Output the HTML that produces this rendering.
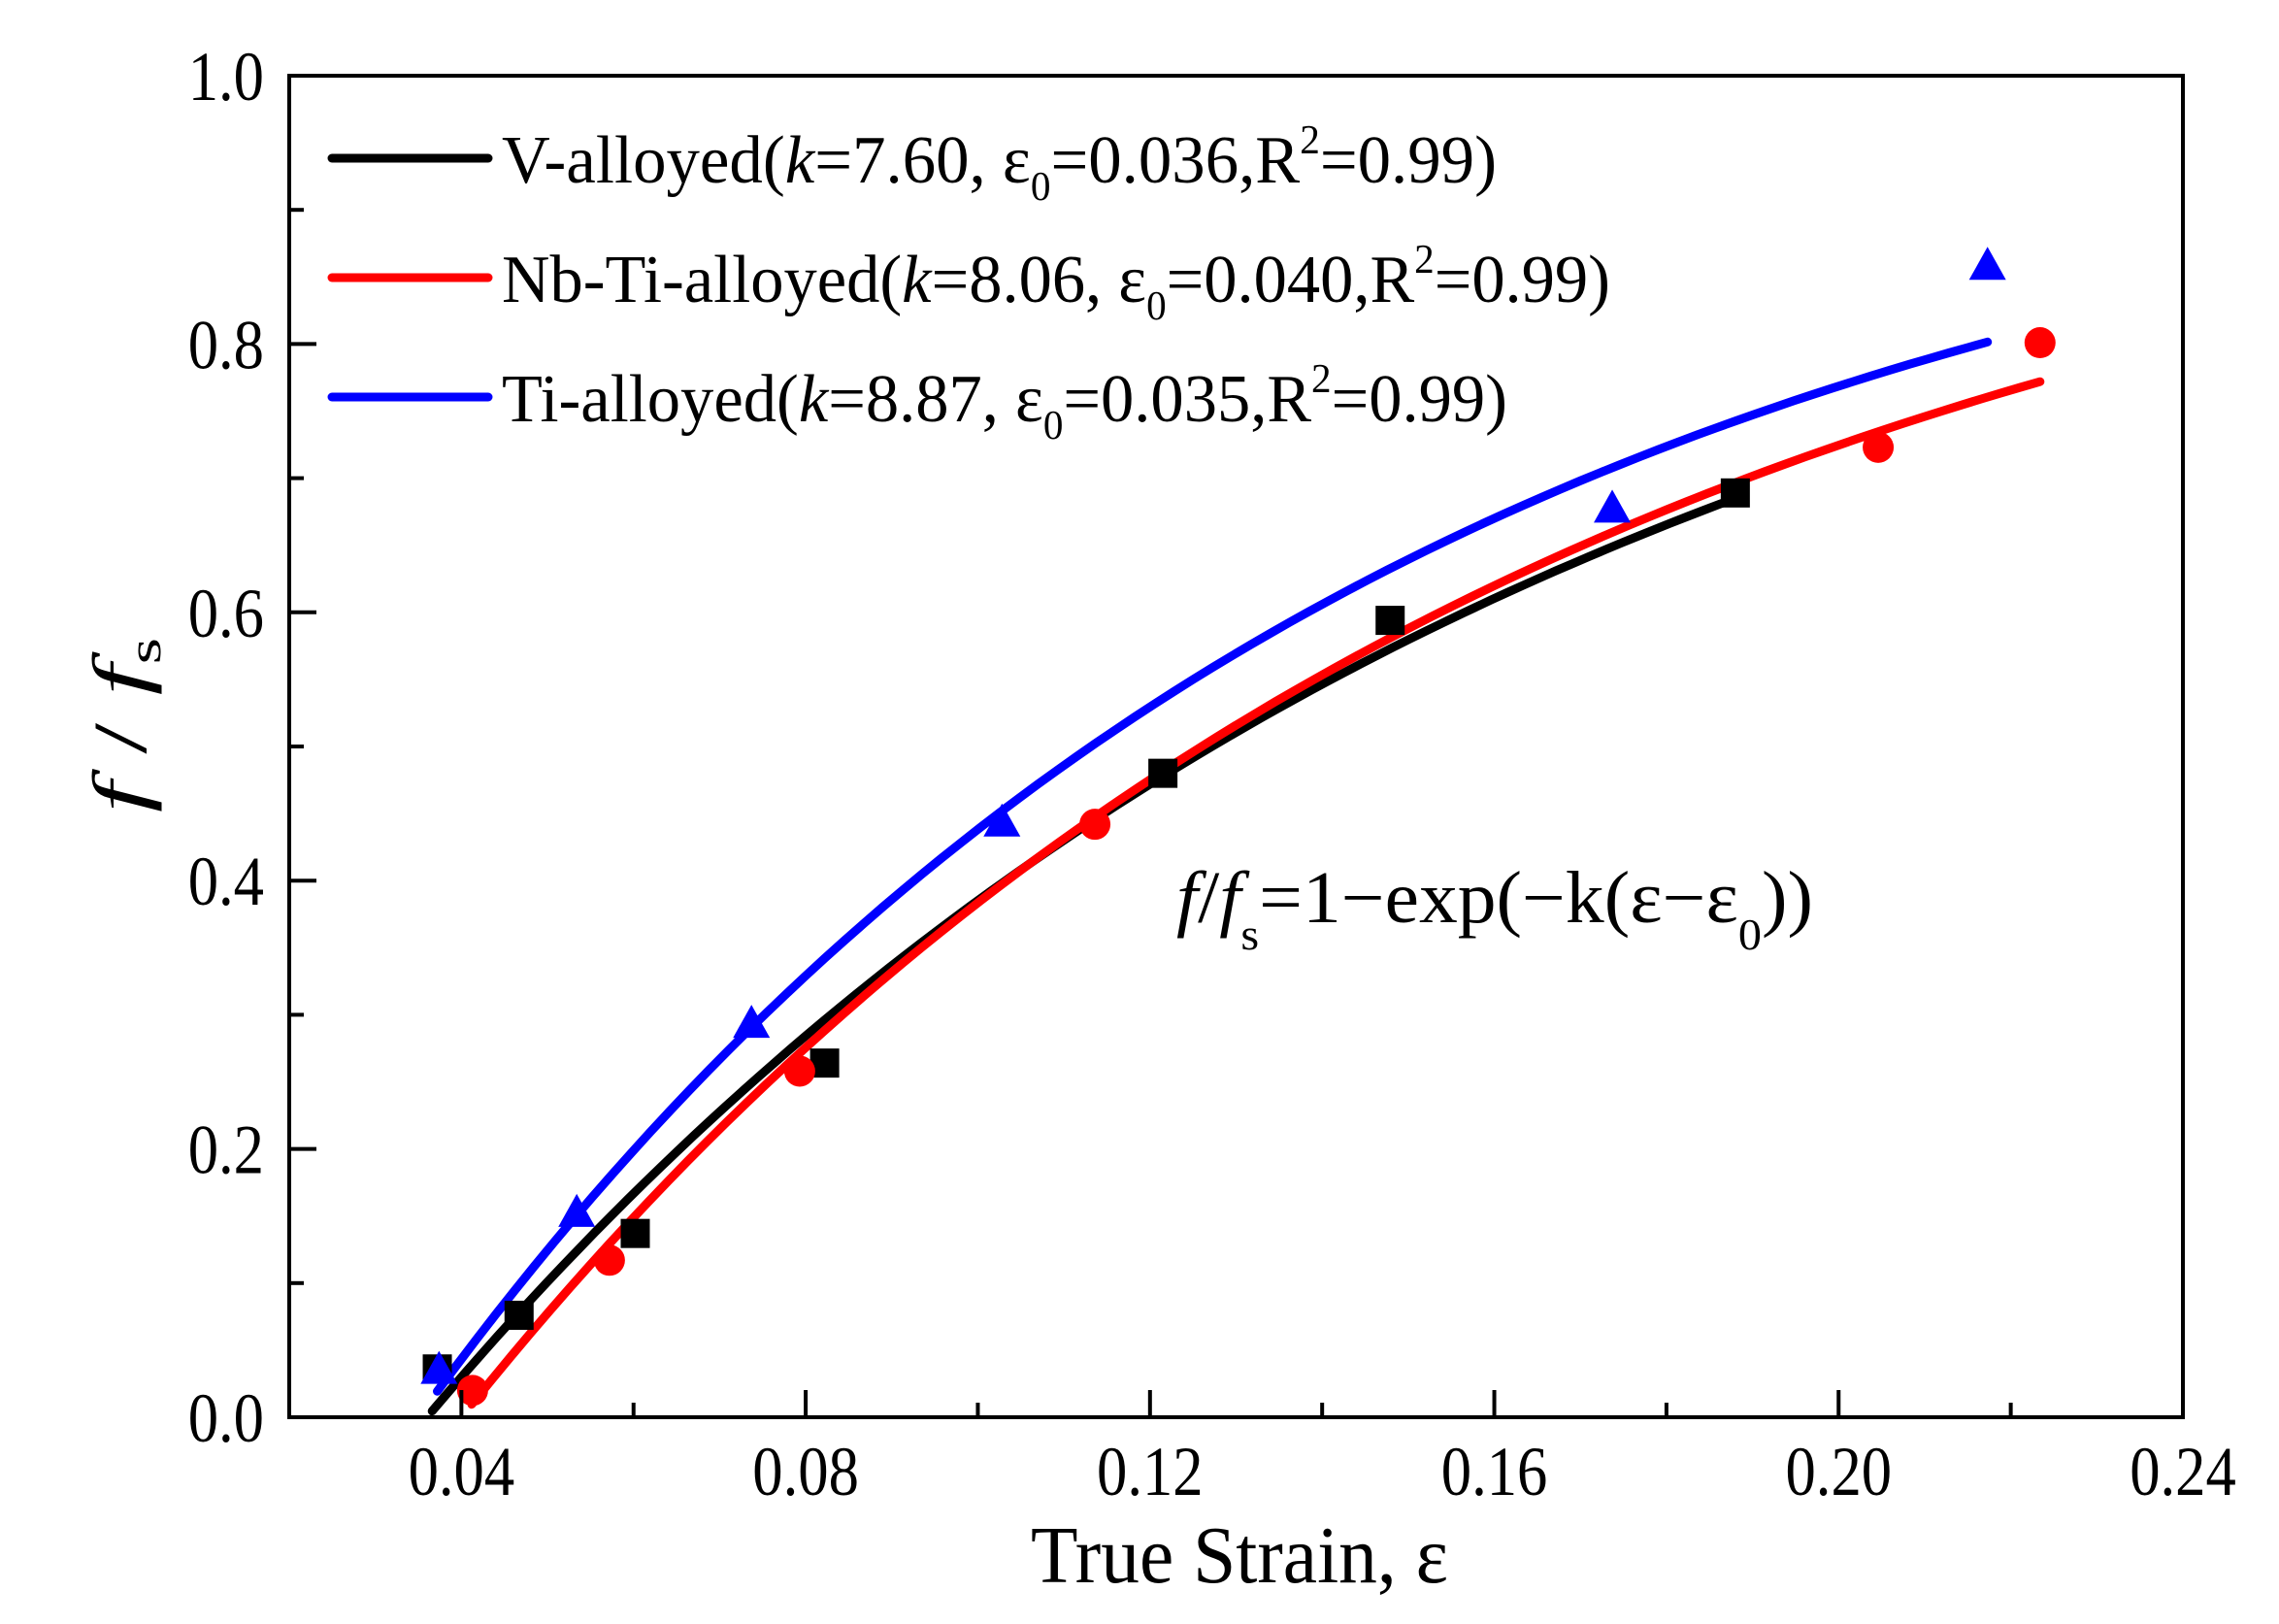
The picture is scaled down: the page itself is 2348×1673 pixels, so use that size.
<!DOCTYPE html>
<html><head><meta charset="utf-8"><style>
html,body{margin:0;padding:0;background:#fff;}
svg{display:block;font-family:"Liberation Serif",serif;}
</style></head><body>
<svg id="chart" width="2348" height="1673" viewBox="0 0 2348 1673" xmlns="http://www.w3.org/2000/svg">
<rect x="0" y="0" width="2348" height="1673" fill="#fff"/>
<g id="plot"></g>
<g id="ticks"></g>
<rect x="298" y="78" width="1951" height="1382" fill="none" stroke="#000" stroke-width="4"/>
<g font-size="70">
  <line x1="342" y1="163" x2="503" y2="163" stroke="#000" stroke-width="9" stroke-linecap="round"/>
  <text x="517" y="188" textLength="1025" lengthAdjust="spacingAndGlyphs">V-alloyed(<tspan font-style="italic">k</tspan>=7.60, ε<tspan font-size="42" dy="18">0</tspan><tspan dy="-18">=0.036,R</tspan><tspan font-size="42" dy="-30">2</tspan><tspan dy="30">=0.99)</tspan></text>
  <line x1="342" y1="286" x2="503" y2="286" stroke="#f00" stroke-width="9" stroke-linecap="round"/>
  <text x="517" y="311" textLength="1142" lengthAdjust="spacingAndGlyphs">Nb-Ti-alloyed(<tspan font-style="italic">k</tspan>=8.06, ε<tspan font-size="42" dy="18">0</tspan><tspan dy="-18">=0.040,R</tspan><tspan font-size="42" dy="-30">2</tspan><tspan dy="30">=0.99)</tspan></text>
  <line x1="342" y1="409" x2="503" y2="409" stroke="#00f" stroke-width="9" stroke-linecap="round"/>
  <text x="517" y="434" textLength="1036" lengthAdjust="spacingAndGlyphs">Ti-alloyed(<tspan font-style="italic">k</tspan>=8.87, ε<tspan font-size="42" dy="18">0</tspan><tspan dy="-18">=0.035,R</tspan><tspan font-size="42" dy="-30">2</tspan><tspan dy="30">=0.99)</tspan></text>
</g>
<text x="1212" y="950" font-size="76" textLength="656" lengthAdjust="spacingAndGlyphs"><tspan font-style="italic">f</tspan>/<tspan font-style="italic">f</tspan><tspan font-size="46" dy="28">s</tspan><tspan dy="-28">=1−exp(−k(ε−ε</tspan><tspan font-size="46" dy="28">0</tspan><tspan dy="-28">))</tspan></text>
<text x="1062" y="1630" font-size="84" textLength="430" lengthAdjust="spacingAndGlyphs">True Strain, ε</text>
<g transform="translate(150,837) rotate(-90)">
  <text x="0" y="0" font-size="78" textLength="180" lengthAdjust="spacingAndGlyphs"><tspan font-style="italic">f</tspan> / <tspan font-style="italic">f</tspan><tspan font-size="48" dy="15">s</tspan></text>
</g>
</svg>
<script>
// ---- data ----
const xTickValues = [0.04, 0.08, 0.12, 0.16, 0.20, 0.24];
const xTickLabels = ["0.04", "0.08", "0.12", "0.16", "0.20", "0.24"];
const xMinorTicks = [0.02, 0.06, 0.10, 0.14, 0.18, 0.22];
const yTickValues = [0, 0.2, 0.4, 0.6, 0.8, 1.0];
const yTickLabels = ["0.0", "0.2", "0.4", "0.6", "0.8", "1.0"];
const yMinorTicks = [0.1, 0.3, 0.5, 0.7, 0.9];

const vStrain = [0.0372, 0.0467, 0.0602, 0.0822, 0.1215, 0.1479, 0.188];
const vFrac   = [0.036, 0.076, 0.137, 0.264, 0.480, 0.594, 0.689];
const nbStrain = [0.0413, 0.0572, 0.0793, 0.1136, 0.2046, 0.2234];
const nbFrac   = [0.020, 0.117, 0.258, 0.442, 0.723, 0.801];
const tiStrain = [0.0374, 0.0534, 0.0737, 0.1028, 0.1737, 0.2173];
const tiFrac   = [0.035, 0.152, 0.293, 0.443, 0.677, 0.858];

const fitK = [7.60, 8.06, 8.87];
const fitE0 = [0.036, 0.040, 0.035];
const fitStart = [0.0366, 0.0412, 0.0372];
const fitEnd = [0.188, 0.2234, 0.2173];

// ---- axes ----
const X0 = 298, X1 = 2249, Y0 = 1460, Y1 = 78;
const xS = v => X0 + (v - 0.02) / 0.22 * (X1 - X0);
const yS = v => Y0 - v * (Y0 - Y1);
const NS = "http://www.w3.org/2000/svg";
const plot = document.getElementById('plot');
const ticks = document.getElementById('ticks');
function mk(tag, attrs, parent) {
  const e = document.createElementNS(NS, tag);
  for (const k in attrs) e.setAttribute(k, attrs[k]);
  parent.appendChild(e);
  return e;
}
xTickValues.forEach((v, i) => {
  const t = mk('line', {x1: xS(v), x2: xS(v), y1: Y0, y2: Y0 - 28, stroke: '#000', 'stroke-width': 4}, ticks);
  
  
  const g = mk('g', {transform: `translate(${xS(v)},1540) scale(0.87,1)`}, ticks);
  const tx = mk('text', {x: 0, y: 0, 'font-size': 72, 'text-anchor': 'middle'}, g);
  tx.textContent = xTickLabels[i];
  
  
});
xMinorTicks.forEach(v => {
  const t = mk('line', {x1: xS(v), x2: xS(v), y1: Y0, y2: Y0 - 15, stroke: '#000', 'stroke-width': 4}, ticks);
  
  
});
yTickValues.forEach((v, i) => {
  const t = mk('line', {x1: X0, x2: X0 + 28, y1: yS(v), y2: yS(v), stroke: '#000', 'stroke-width': 4}, ticks);
  
  
  const g = mk('g', {transform: `translate(272,${yS(v) + 25}) scale(0.87,1)`}, ticks);
  const tx = mk('text', {x: 0, y: 0, 'font-size': 72, 'text-anchor': 'end'}, g);
  tx.textContent = yTickLabels[i];
  
  
});
yMinorTicks.forEach(v => {
  const t = mk('line', {x1: X0, x2: X0 + 15, y1: yS(v), y2: yS(v), stroke: '#000', 'stroke-width': 4}, ticks);
  
  
});

// ---- fit curves ----
const colors = ['#000', '#f00', '#00f'];
const curveNames = ['v-alloyed-fit', 'nbti-alloyed-fit', 'ti-alloyed-fit'];
[0, 1, 2].forEach(i => {
  let d = '';
  const n = 80;
  for (let j = 0; j <= n; j++) {
    const e = fitStart[i] + (fitEnd[i] - fitStart[i]) * j / n;
    const f = 1 - Math.exp(-fitK[i] * (e - fitE0[i]));
    d += (j ? 'L' : 'M') + xS(e).toFixed(1) + ',' + yS(f).toFixed(1);
  }
  const p = mk('path', {d, fill: 'none', stroke: colors[i], 'stroke-width': 9, 'stroke-linecap': 'round', 'stroke-linejoin': 'round'}, plot);
  
  
});

// ---- markers ----
vStrain.forEach((e, i) => {
  const r = mk('rect', {x: xS(e) - 15, y: yS(vFrac[i]) - 15, width: 30, height: 30, fill: '#000'}, plot);
  
  
});
nbStrain.forEach((e, i) => {
  const c = mk('circle', {cx: xS(e), cy: yS(nbFrac[i]), r: 16, fill: '#f00'}, plot);
  
  
});
tiStrain.forEach((e, i) => {
  const cx = xS(e), cy = yS(tiFrac[i]);
  const t = mk('polygon', {points: `${cx},${cy - 20} ${cx + 19},${cy + 14} ${cx - 19},${cy + 14}`, fill: '#00f'}, plot);
  
  
});
</script>
</body></html>
